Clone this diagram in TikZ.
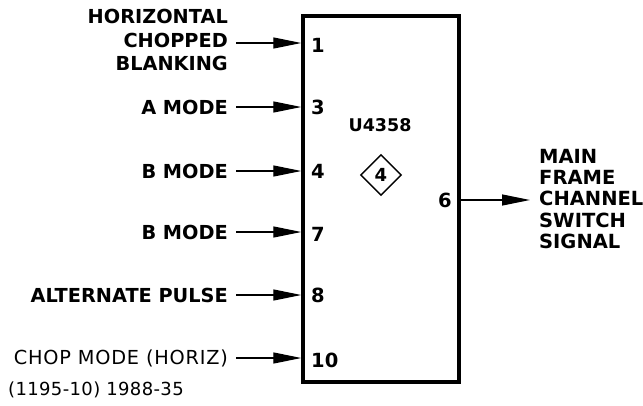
\documentclass[tikz,border=0pt]{standalone}
\usepackage{fontspec}
\setmainfont{DejaVu Sans}
\usetikzlibrary{arrows.meta,shapes.geometric}
\begin{document}
\begin{tikzpicture}[x=1pt,y=-1pt,
  lbl/.style={anchor=east,inner xsep=8pt,inner ysep=0pt,font=\fontsize{19.3}{23.5}\selectfont\bfseries},
  pin/.style={anchor=west,inner sep=0pt,font=\fontsize{19.5}{22}\selectfont\bfseries},
  sig/.style={line width=1.3pt,-{Triangle[length=28pt,width=11pt]}},
  chipbox/.style={draw,line width=3.4pt,minimum width=156pt,minimum height=366pt,inner sep=0pt}]
\useasboundingbox (0,0) rectangle (643,405);
\node[chipbox] (chip) at (381,199) {};
% inputs
\node[lbl,align=right] (l1) at (236,40) {HORIZONTAL\\CHOPPED\\BLANKING};
\node[lbl] (l3) at (236,107) {A MODE};
\node[lbl] (l4) at (236,171) {B MODE};
\node[lbl] (l7) at (236,232) {B MODE};
\node[lbl] (l8) at (236,295) {ALTERNATE PULSE};
\node[lbl,font=\fontsize{19.3}{22}\selectfont\addfontfeatures{LetterSpace=4}] (l10) at (236,358) {CHOP MODE (HORIZ)};
\coordinate (c1) at (236,43);
\draw[sig] (c1) -- (c1 -| chip.west);
\draw[sig] (l3.east) -- (l3.east -| chip.west);
\draw[sig] (l4.east) -- (l4.east -| chip.west);
\draw[sig] (l7.east) -- (l7.east -| chip.west);
\draw[sig] (l8.east) -- (l8.east -| chip.west);
\draw[sig] (l10.east) -- (l10.east -| chip.west);
% pin numbers
\node[pin] (p1) at (311,45) {1};
\node[pin] (p3) at (311,107) {3};
\node[pin] (p4) at (311,171) {4};
\node[pin] (p7) at (311,234) {7};
\node[pin] (p8) at (311,295) {8};
\node[pin] (p10) at (311,360) {10};
\node[pin,anchor=east] (p6) at (452,200) {6};
% chip label
\node[font=\fontsize{17.5}{20}\selectfont\bfseries] (name) at (380,125) {U4358};
\node[draw,diamond,line width=1.4pt,minimum width=41pt,minimum height=41pt,inner sep=0pt,font=\fontsize{18}{20}\selectfont\bfseries] (dia) at (381,175) {4};
% output
\node[anchor=west,align=left,inner sep=0pt,font=\fontsize{19.5}{21.2}\selectfont\bfseries] (out) at (539,199) {MAIN\\FRAME\\CHANNEL\\SWITCH\\SIGNAL};
\coordinate (o6) at (530,200);
\draw[sig] (chip.east |- o6) -- (o6);
% footer
\node[anchor=west,inner sep=0pt,font=\fontsize{18}{20}\selectfont\addfontfeatures{LetterSpace=2}] (foot) at (8,390) {(1195-10) 1988-35};
\end{tikzpicture}
\end{document}
